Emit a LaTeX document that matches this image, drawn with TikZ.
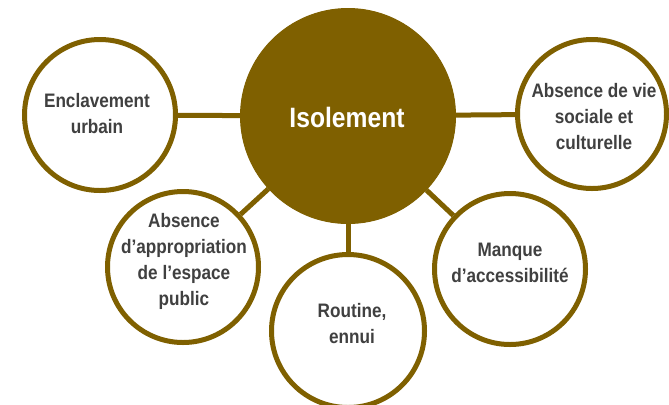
\documentclass[tikz,border=0pt]{standalone}
\usepackage{fontspec}
\newfontfamily\labfont{Liberation Sans}[FakeStretch=0.88]
\definecolor{brown}{HTML}{7F6000}
\definecolor{txtgray}{HTML}{404040}
\begin{document}
\begin{tikzpicture}[x=1bp,y=-1bp,
  outer/.style={circle,draw=brown,line width=5bp,fill=white,inner sep=0pt},
  hub/.style={circle,fill=brown,draw=brown,line width=1bp,inner sep=0pt,minimum size=215bp},
  lab/.style={align=center,text=txtgray,font=\labfont\bfseries\fontsize{19.5bp}{26bp}\selectfont,inner sep=0pt},
  conn/.style={draw=brown,line width=5bp}]
\useasboundingbox (0,0) rectangle (669,404);
\node[hub] (C) at (348,116) {};
\node[outer,minimum size=151bp] (E) at (100,115) {};
\node[outer,minimum size=149bp] (S) at (592,114) {};
\node[outer,minimum size=151bp] (A) at (183,267) {};
\node[outer,minimum size=153bp] (R) at (348,331) {};
\node[outer,minimum size=151bp] (M) at (510,269) {};
\draw[conn] (C) -- (E);
\draw[conn] (C) -- (S);
\draw[conn] (C) -- (A);
\draw[conn] (C) -- (R);
\draw[conn] (C) -- (M);
\node[text=white,font=\labfont\bfseries\fontsize{28bp}{30bp}\selectfont,inner sep=0pt] (tC) at (347,117) {Isolement};
\node[lab] (tE) at (97,114) {Enclavement\\urbain};
\node[lab] (tS) at (594,117) {Absence de vie\\sociale et\\culturelle};
\node[lab] (tA) at (184,261) {Absence\\d’appropriation\\de l’espace\\public};
\node[lab] (tR) at (352,324) {Routine,\\ennui};
\node[lab] (tM) at (510,263) {Manque\\d’accessibilité};
\end{tikzpicture}
\end{document}
